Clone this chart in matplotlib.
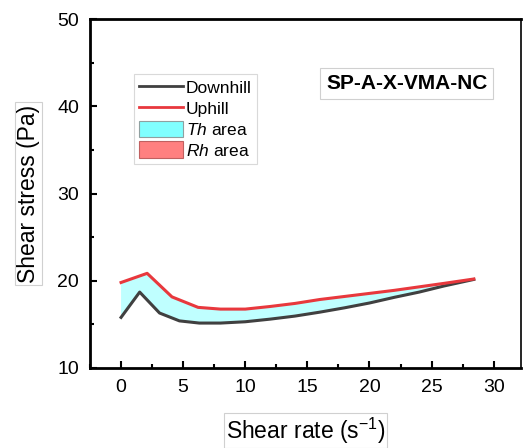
import matplotlib
matplotlib.use("Agg")
import matplotlib.pyplot as plt
from matplotlib.lines import Line2D
from matplotlib.patches import Patch
from matplotlib.ticker import MultipleLocator

plt.rcParams['font.family'] = ['Liberation Sans', 'DejaVu Sans']
plt.rcParams['mathtext.fontset'] = 'custom'
plt.rcParams['mathtext.it'] = 'Liberation Sans:italic'
plt.rcParams['mathtext.rm'] = 'Liberation Sans'

# data
down_x = [0, 1.5, 3.1, 4.7, 6.3, 8.0, 10.0, 12.0, 14.0, 16.0, 18.0, 20.0, 22.0, 24.0, 26.0, 28.4]
down_y = [15.8, 18.7, 16.3, 15.4, 15.15, 15.15, 15.3, 15.6, 15.95, 16.4, 16.9, 17.45, 18.1, 18.7, 19.4, 20.15]
up_x = [0, 2.1, 4.1, 6.2, 8.0, 10.0, 12.0, 14.0, 16.0, 18.0, 20.0, 22.0, 24.0, 26.0, 28.4]
up_y = [19.8, 20.85, 18.15, 16.95, 16.75, 16.75, 17.05, 17.4, 17.85, 18.2, 18.55, 18.9, 19.3, 19.7, 20.2]

sample = "SP-A-X-VMA-NC"
labels = ["Downhill", "Uphill", "$\\mathit{Th}$ area", "$\\mathit{Rh}$ area"]

fig = plt.figure(figsize=(5.25, 4.48), dpi=100)
ax = fig.add_axes([90/525, 1-368/448, (521-90)/525, (368-19)/448])

# thixotropy area between the curves
poly_x = up_x + down_x[::-1]
poly_y = up_y + down_y[::-1]
ax.fill(poly_x, poly_y, color='#BFFFFF', lw=0, zorder=1)
ax.plot(down_x, down_y, color='#404040', lw=2.2, zorder=3)
ax.plot(up_x, up_y, color='#E8383D', lw=2.2, zorder=3)

ax.set_xlim(-2.5, 32.2)
ax.set_ylim(10, 50)
ax.xaxis.set_major_locator(MultipleLocator(5))
ax.xaxis.set_minor_locator(MultipleLocator(2.5))
ax.yaxis.set_major_locator(MultipleLocator(10))
ax.yaxis.set_minor_locator(MultipleLocator(5))
ax.tick_params(which='both', direction='in', top=False, right=False,
               labelsize=14, width=1.5, pad=8)
ax.tick_params(which='major', length=5)
ax.tick_params(which='minor', length=3)
for s in ['left', 'bottom', 'top']:
    ax.spines[s].set_linewidth(2)
ax.spines['right'].set_linewidth(1.2)

box = dict(facecolor='white', edgecolor='#d0d0d0', lw=0.8, pad=1.5)
ax.set_xlabel("Shear rate (s$^{-1}$)", fontsize=16.5, labelpad=14, bbox=box)
ax.set_ylabel("Shear stress (Pa)", fontsize=16.5, labelpad=12, bbox=box)

ax.text(23.0, 42.6, sample, fontsize=15, fontweight='bold', ha='center', va='center',
        bbox=dict(facecolor='white', edgecolor='#d0d0d0', lw=0.8, pad=4))

handles = [Line2D([], [], color='#404040', lw=2),
           Line2D([], [], color='#E8383D', lw=2),
           Patch(facecolor='#80FFFF', edgecolor='#90a0a0', lw=0.8),
           Patch(facecolor='#FF8080', edgecolor='#c06060', lw=0.8)]
leg = fig.legend(handles, labels, loc='upper left', bbox_to_anchor=(134/525, 1-74/448),
                 fontsize=12.5, frameon=True, fancybox=False, edgecolor='#d0d0d0',
                 handlelength=2.5, handleheight=1.1, labelspacing=0.2,
                 handletextpad=0.2, borderpad=0.3, borderaxespad=0)
leg.get_frame().set_linewidth(0.8)

fig.savefig("out.png", dpi=100)
